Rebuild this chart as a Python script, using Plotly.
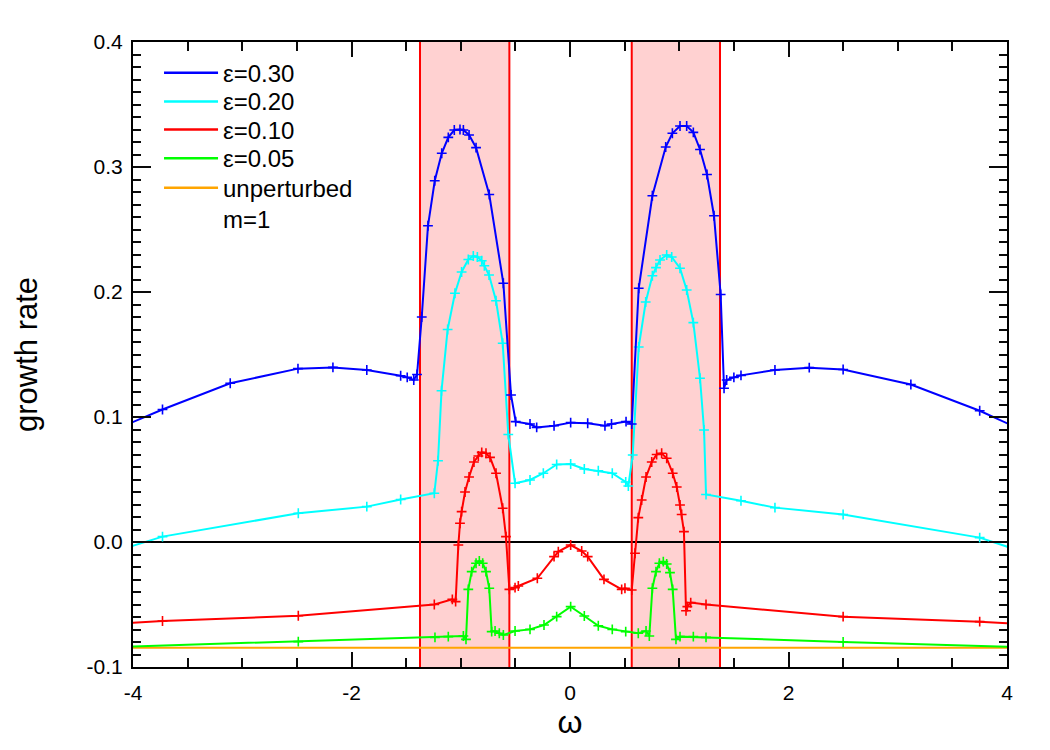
import plotly.graph_objects as go

# ---------------- data ----------------
x_b = [-4.35, -3.73, -3.11, -2.49, -2.17, -1.86, -1.55, -1.49, -1.43, -1.40, -1.357, -1.30, -1.238, -1.174,
       -1.114, -1.059, -1.007, -0.976, -0.924, -0.860, -0.739, -0.610, -0.540, -0.497, -0.366, -0.305, -0.146,
       0.006, 0.162, 0.32, 0.38, 0.513, 0.565, 0.629, 0.754, 0.876, 0.937, 1.007, 1.068, 1.129, 1.19, 1.254,
       1.318, 1.379, 1.41, 1.434, 1.50, 1.565, 1.876, 2.19, 2.50, 3.12, 3.75, 4.35]
y_b = [0.083, 0.106, 0.127, 0.1387, 0.1397, 0.1376, 0.133, 0.1317, 0.1296, 0.134, 0.180, 0.253, 0.289, 0.311,
       0.3237, 0.3296, 0.330, 0.3296, 0.3256, 0.3155, 0.278, 0.207, 0.1176, 0.0963, 0.0944, 0.0917, 0.093,
       0.0955, 0.095, 0.093, 0.0944, 0.0963, 0.0944, 0.203, 0.277, 0.316, 0.327, 0.3328, 0.3328, 0.3277, 0.314,
       0.294, 0.261, 0.198, 0.123, 0.1296, 0.1317, 0.1333, 0.1376, 0.1395, 0.138, 0.126, 0.105, 0.081]

x_c = [-4.35, -3.73, -2.487, -1.86, -1.55, -1.242, -1.208, -1.176, -1.12, -1.053, -0.992, -0.931, -0.885, -0.848,
       -0.808, -0.784, -0.741, -0.677, -0.616, -0.565, -0.503, -0.366, -0.244, -0.122, 0.006, 0.131, 0.259, 0.387,
       0.51, 0.534, 0.574, 0.629, 0.693, 0.754, 0.787, 0.824, 0.885, 0.931, 1.007, 1.068, 1.129, 1.19, 1.227,
       1.245, 1.565, 1.876, 2.50, 3.75, 4.35]
y_c = [-0.0125, 0.0043, 0.023, 0.0283, 0.034, 0.039, 0.065, 0.121, 0.170, 0.199, 0.216, 0.226, 0.2288, 0.228,
       0.225, 0.221, 0.2136, 0.193, 0.159, 0.086, 0.047, 0.0496, 0.055, 0.062, 0.0624, 0.0584, 0.057, 0.055,
       0.048, 0.0448, 0.0696, 0.156, 0.192, 0.213, 0.2195, 0.2256, 0.2296, 0.228, 0.219, 0.2016, 0.1755, 0.131,
       0.0896, 0.038, 0.033, 0.0275, 0.022, 0.0035, -0.0137]

x_r = [-4.35, -3.73, -2.487, -1.242, -1.077, -1.047, -1.022, -1.007, -0.992, -0.961, -0.924, -0.879, -0.839,
       -0.808, -0.769, -0.732, -0.677, -0.616, -0.586, -0.555, -0.503, -0.473, -0.299, -0.146, -0.107, 0.006,
       0.107, 0.162, 0.311, 0.473, 0.503, 0.565, 0.595, 0.625, 0.656, 0.696, 0.748, 0.793, 0.839, 0.885, 0.94,
       0.977, 1.007, 1.022, 1.043, 1.062, 1.074, 1.105, 1.245, 2.50, 3.75, 4.35]
y_r = [-0.0662, -0.0632, -0.059, -0.050, -0.0459, -0.0477, -0.0024, 0.015, 0.0243, 0.040, 0.052, 0.064, 0.0688,
       0.0717, 0.071, 0.0677, 0.055, 0.027, 0.0043, -0.0379, -0.0365, -0.0352, -0.029, -0.0117, -0.0077, -0.0024,
       -0.0072, -0.0117, -0.0299, -0.0379, -0.037, -0.0384, -0.009, 0.0195, 0.0336, 0.052, 0.064, 0.070, 0.071,
       0.067, 0.055, 0.044, 0.0296, 0.022, 0.0083, -0.055, -0.0517, -0.0485, -0.050, -0.0597, -0.0637, -0.0668]

x_g = [-4.35, -2.487, -1.236, -1.114, -0.976, -0.952, -0.931, -0.900, -0.860, -0.830, -0.799, -0.769, -0.739,
       -0.717, -0.686, -0.647, -0.61, -0.503, -0.366, -0.238, -0.122, 0.006, 0.131, 0.259, 0.387, 0.51, 0.625,
       0.696, 0.726, 0.754, 0.787, 0.818, 0.854, 0.885, 0.915, 0.94, 0.97, 1.007, 1.129, 1.245, 2.50, 4.35]
y_g = [-0.0846, -0.0797, -0.0763, -0.0757, -0.0752, -0.0779, -0.0379, -0.0237, -0.017, -0.0152, -0.017, -0.0237,
       -0.037, -0.0717, -0.0712, -0.073, -0.0744, -0.0712, -0.0699, -0.0664, -0.0597, -0.0517, -0.0592, -0.067,
       -0.0699, -0.0717, -0.073, -0.0712, -0.0752, -0.037, -0.0237, -0.017, -0.0157, -0.0176, -0.0245, -0.0379,
       -0.0779, -0.0757, -0.0757, -0.0763, -0.080, -0.0846]

x_unpert = [-4.35, 4.35]
y_unpert = [-0.0845, -0.0845]
x_zero = [-4.35, 4.35]
y_zero = [0.0, 0.0]

bands = [(-1.373, -0.555), (0.565, 1.373)]

x_range = [-4, 4]
y_range = [-0.1, 0.4]
x_tickvals = [-4, -2, 0, 2, 4]
x_ticktext = ["-4", "-2", "0", "2", "4"]
y_tickvals = [-0.1, 0.0, 0.1, 0.2, 0.3, 0.4]
y_ticktext = ["-0.1", "0.0", "0.1", "0.2", "0.3", "0.4"]
x_minor_step = 0.5
y_minor_step = 0.01

legend_labels = ["ε=0.30", "ε=0.20", "ε=0.10", "ε=0.05", "unperturbed<br>m=1"]
colors = ["#0000FF", "#00FFFF", "#FF0000", "#00FF00", "#FFA500"]

series = [
    (legend_labels[0], x_b, y_b, colors[0]),
    (legend_labels[1], x_c, y_c, colors[1]),
    (legend_labels[2], x_r, y_r, colors[2]),
    (legend_labels[3], x_g, y_g, colors[3]),
]
for _, xs, ys, _c in series:
    assert len(xs) == len(ys)

FONT = "Liberation Sans, Arial, Helvetica, sans-serif"
INK = "#0a0a0a"

fig = go.Figure()

# invisible trace that carries the minor-tick overlay axes
fig.add_trace(go.Scatter(x=[None], y=[None], xaxis="x2", yaxis="y2", showlegend=False,
                         hoverinfo="skip", mode="lines"))

# shaded resonance bands (filled polygons in data coordinates)
for (a, b) in bands:
    fig.add_trace(go.Scatter(x=[a, a, b, b, a],
                             y=[y_range[0], y_range[1], y_range[1], y_range[0], y_range[0]],
                             mode="lines", fill="toself", fillcolor="rgba(255,0,0,0.18)",
                             line=dict(width=0), showlegend=False, hoverinfo="skip"))

# zero line
fig.add_trace(go.Scatter(x=x_zero, y=y_zero, mode="lines", line=dict(color="black", width=2),
                         showlegend=False, hoverinfo="skip"))

# band edges
for (a, b) in bands:
    fig.add_trace(go.Scatter(x=[a, a, None, b, b],
                             y=[y_range[0], y_range[1], None, y_range[0], y_range[1]],
                             mode="lines", line=dict(color="#FF0000", width=2),
                             showlegend=False, hoverinfo="skip"))

fig.add_trace(go.Scatter(x=x_unpert, y=y_unpert, mode="lines", name="unperturbed m=1",
                         line=dict(color=colors[4], width=2), showlegend=False))

for name, xs, ys, col in reversed(series):
    fig.add_trace(go.Scatter(x=xs, y=ys, mode="lines+markers", name=name, showlegend=False,
                             line=dict(color=col, width=2),
                             marker=dict(symbol="cross-thin", size=7,
                                         line=dict(color=col, width=1.6), color=col)))

# ---- hand-made legend on a hidden 0..1 overlay axis pair (inside top-left) ----
annotations = []
leg_x = [0.0355, 0.0973]
leg_tx = 0.101
leg_rows = [0.951, 0.905, 0.860, 0.814, 0.767]
for i, yrow in enumerate(leg_rows):
    fig.add_trace(go.Scatter(x=leg_x, y=[yrow, yrow], xaxis="x3", yaxis="y3", mode="lines",
                             line=dict(color=colors[i], width=2.5), showlegend=False, hoverinfo="skip"))
    annotations.append(dict(xref="x3", yref="y3", x=leg_tx, y=yrow, text=legend_labels[i],
                            xanchor="left", yanchor="top", yshift=15, showarrow=False, align="left",
                            font=dict(size=24, family=FONT, color="black")))

fig.update_layout(
    width=1050, height=750,
    margin=dict(l=133, r=43, t=42, b=83),
    paper_bgcolor="white", plot_bgcolor="white",
    font=dict(family=FONT, size=21, color="black"),
    annotations=annotations,
    showlegend=False,
    xaxis=dict(range=x_range, tickvals=x_tickvals, ticktext=x_ticktext,
               ticks="inside", ticklen=15, tickwidth=2, tickcolor=INK,
               showline=True, linecolor="black", linewidth=2, mirror="ticks",
               showgrid=False, zeroline=False, ticklabelstandoff=6,
               tickfont=dict(size=21),
               title=dict(text="ω", font=dict(size=32), standoff=4)),
    yaxis=dict(range=y_range, tickvals=y_tickvals, ticktext=y_ticktext,
               ticks="inside", ticklen=18, tickwidth=2, tickcolor=INK,
               showline=True, linecolor="black", linewidth=2, mirror="ticks",
               showgrid=False, zeroline=False, ticklabelstandoff=4,
               tickfont=dict(size=21),
               title=dict(text="growth rate", font=dict(size=31), standoff=40)),
    xaxis2=dict(overlaying="x", anchor="y2", side="bottom", range=x_range,
                tickmode="linear", tick0=0, dtick=x_minor_step,
                ticks="inside", ticklen=9, tickwidth=2, tickcolor=INK,
                showticklabels=False, showline=False, mirror="ticks",
                showgrid=False, zeroline=False),
    yaxis2=dict(overlaying="y", anchor="x2", side="left", range=y_range,
                tickmode="linear", tick0=0, dtick=y_minor_step,
                ticks="inside", ticklen=8, tickwidth=2, tickcolor=INK,
                showticklabels=False, showline=False, mirror="ticks",
                showgrid=False, zeroline=False),
    xaxis3=dict(overlaying="x", anchor="y3", range=[0, 1], visible=False, showgrid=False, zeroline=False),
    yaxis3=dict(overlaying="y", anchor="x3", range=[0, 1], visible=False, showgrid=False, zeroline=False),
)

fig.write_html("out.html")
